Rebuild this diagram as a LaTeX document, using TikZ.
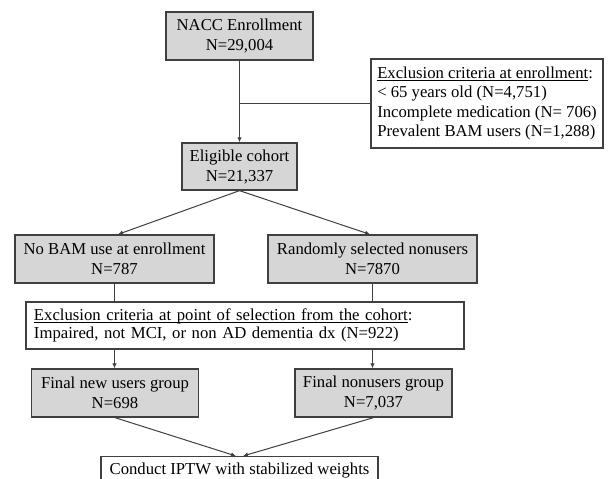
\documentclass[tikz,border=0pt]{standalone}
\usepackage{fontspec}
\setmainfont{Liberation Serif}
\usetikzlibrary{calc,arrows.meta}
\definecolor{boxfill}{HTML}{D6D6D6}
\definecolor{linecol}{HTML}{404040}
\newcommand{\myul}[1]{\setbox0\hbox{#1}\rlap{\rule[-2.6pt]{\wd0}{0.9pt}}\box0}
\tikzset{
  graybox/.style={draw=linecol, line width=1.3pt, fill=boxfill, align=center,
    inner sep=0pt, font=\fontsize{16.7}{20}\selectfont},
  whitebox/.style={draw=linecol, line width=1.3pt, fill=white, align=left,
    inner xsep=8pt, inner ysep=0pt},
  conn/.style={draw=linecol, line width=1pt},
  arr/.style={conn, -{Latex[length=5pt,width=4.5pt]}}
}
\begin{document}
\begin{tikzpicture}[x=1pt,y=-1pt]
\clip (0,0) rectangle (614,479);
\fill[white] (0,0) rectangle (614,479);

\node[graybox, minimum width=147pt, minimum height=48pt] (nacc) at (239.5,36) {NACC Enrollment\\N=29,004};
\node[whitebox, inner xsep=0pt, minimum width=232pt, minimum height=89pt, font=\fontsize{16.7}{19.5}\selectfont] (excl1) at (487,103.5)
  {\myul{Exclusion criteria at enrollment}:\\< 65 years old (N=4,751)\\Incomplete medication (N= 706)\\Prevalent BAM users (N=1,288)};
\node[graybox, minimum width=115pt, minimum height=47pt] (elig) at (239.5,166.5) {Eligible cohort\\N=21,337};
\node[graybox, minimum width=199pt, minimum height=48pt] (nobam) at (114.5,259) {No BAM use at enrollment\\N=787};
\node[graybox, minimum width=209pt, minimum height=48pt] (rand) at (372.5,259) {Randomly selected nonusers\\N=7870};
\node[whitebox, text width=422pt, minimum height=47pt, font=\fontsize{16.7}{18.5}\selectfont] (excl2) at (245,325.5)
  {\myul{Exclusion criteria at point of selection from the cohort}:\\Impaired, not MCI, or non AD dementia dx (N=922)};
\node[graybox, minimum width=167pt, minimum height=48pt] (finnew) at (115,393) {Final new users group\\N=698};
\node[graybox, minimum width=157pt, minimum height=48pt] (finnon) at (373.5,393) {Final nonusers group\\N=7,037};
\node[draw=linecol, line width=1.3pt, fill=white, anchor=north, minimum width=277pt,
  inner xsep=0pt, inner ysep=4pt, text height=13.5pt, text depth=12pt,
  font=\fontsize{16.7}{20}\selectfont] (conduct) at (239.5,456) {Conduct IPTW with stabilized weights};

\coordinate (j1) at (nacc.south |- excl1.west);
\draw[arr] (nacc.south) -- (elig.north);
\draw[conn] (j1) -- (excl1.west);
\draw[arr] (elig.south) -- ($(nobam.north)+(3.5,0)$);
\draw[arr] (elig.south) -- ($(rand.north)+(-2.5,0)$);
\draw[conn] (nobam.south) -- (nobam.south |- excl2.north);
\draw[conn] (rand.south) -- (rand.south |- excl2.north);
\draw[arr] (nobam.south |- excl2.south) -- (nobam.south |- finnew.north);
\draw[arr] (rand.south |- excl2.south) -- (rand.south |- finnon.north);
\draw[arr] (finnew.south) -- ($(conduct.north)+(-3.5,0)$);
\draw[arr] (finnon.south) -- ($(conduct.north)+(3.5,0)$);
\end{tikzpicture}
\end{document}
